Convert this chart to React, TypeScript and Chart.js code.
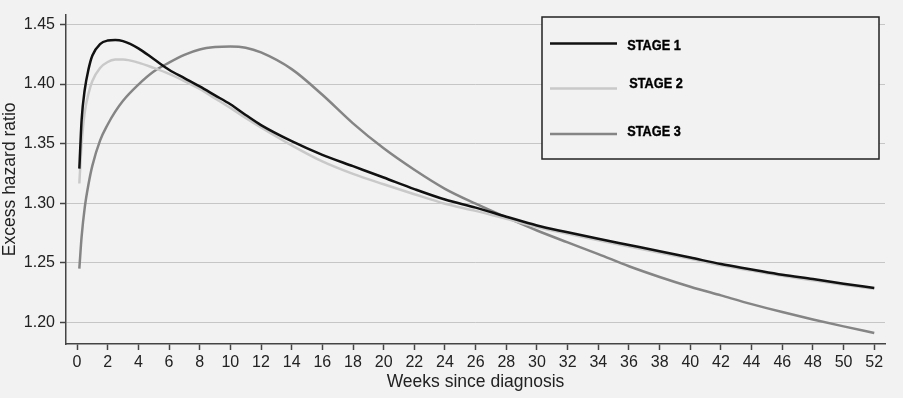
import React, { useEffect, useRef } from "react";
import { Chart, registerables } from "chart.js";

Chart.register(...registerables);

// ---- data ----
const weeks = [0.15, 0.3, 0.5, 0.75, 1, 1.5, 2, 2.5, 3, 4, 5, 6, 7, 8, 9, 10, 11, 12, 14, 16, 18, 20, 22, 24, 26, 28, 30, 32, 34, 36, 38, 40, 42, 44, 46, 48, 50, 52];

const stage1 = [1.329, 1.37, 1.395, 1.4125, 1.424, 1.4335, 1.4365, 1.437, 1.436, 1.43, 1.421, 1.412, 1.405, 1.398, 1.3905, 1.383, 1.374, 1.3655, 1.352, 1.3405, 1.331, 1.3215, 1.3118, 1.303, 1.2962, 1.2886, 1.2812, 1.2755, 1.27, 1.2648, 1.2596, 1.2543, 1.2488, 1.2443, 1.2398, 1.2362, 1.2323, 1.2288];

const stage2 = [1.3165, 1.35, 1.376, 1.392, 1.4025, 1.4135, 1.4185, 1.4205, 1.4207, 1.418, 1.4135, 1.4085, 1.4025, 1.396, 1.388, 1.38, 1.3715, 1.3635, 1.3485, 1.335, 1.3245, 1.3158, 1.3075, 1.2995, 1.2935, 1.2868, 1.28, 1.2742, 1.2688, 1.2636, 1.2584, 1.2532, 1.2478, 1.2433, 1.239, 1.2352, 1.2315, 1.228];

const stage3 = [1.245, 1.272, 1.296, 1.316, 1.3315, 1.3525, 1.366, 1.377, 1.386, 1.3995, 1.4105, 1.418, 1.4245, 1.429, 1.431, 1.4315, 1.4305, 1.4265, 1.4125, 1.391, 1.367, 1.346, 1.328, 1.312, 1.2995, 1.288, 1.277, 1.267, 1.2572, 1.247, 1.238, 1.2298, 1.2225, 1.2152, 1.2085, 1.2023, 1.1965, 1.191];

const seriesNames = ["STAGE 1", "STAGE 2", "STAGE 3"];
const seriesColors = ["#111111", "#c9c9c9", "#858585"];

const xTicks = [0, 2, 4, 6, 8, 10, 12, 14, 16, 18, 20, 22, 24, 26, 28, 30, 32, 34, 36, 38, 40, 42, 44, 46, 48, 50, 52];
const yTicks = [1.2, 1.25, 1.3, 1.35, 1.4, 1.45];

const xTitle = "Weeks since diagnosis";
const yTitle = "Excess hazard ratio";

const BG = "#f2f2f2";
const FONT = "'Liberation Sans', Arial, Helvetica, sans-serif";

const bgPlugin = {
  id: "bgFill",
  beforeDraw(chart: any) {
    const ctx = chart.ctx;
    ctx.save();
    ctx.fillStyle = BG;
    ctx.fillRect(0, 0, chart.width, chart.height);
    ctx.restore();
  },
};

const legendPlugin = {
  id: "boxLegend",
  afterDraw(chart: any) {
    const ctx = chart.ctx;
    ctx.save();
    ctx.fillStyle = BG;
    ctx.fillRect(542, 17, 337, 142);
    ctx.strokeStyle = "#222";
    ctx.lineWidth = 1.5;
    ctx.strokeRect(542, 17, 337, 142);
    const lineY = [43.5, 88.5, 134];
    const textY = [45.5, 84, 132.2];
    const textX = [627.3, 629.3, 627.3];
    seriesNames.forEach((name, i) => {
      ctx.beginPath();
      ctx.strokeStyle = seriesColors[i];
      ctx.lineWidth = 2.5;
      ctx.moveTo(550, lineY[i]);
      ctx.lineTo(617, lineY[i]);
      ctx.stroke();
      ctx.save();
      ctx.translate(textX[i], textY[i]);
      ctx.scale(0.82, 1);
      ctx.fillStyle = "#000";
      ctx.strokeStyle = "#000";
      ctx.lineWidth = 0.4;
      ctx.font = "bold 15.5px " + FONT;
      ctx.textBaseline = "middle";
      ctx.textAlign = "left";
      ctx.fillText(name, 0, 0);
      ctx.strokeText(name, 0, 0);
      ctx.restore();
    });
    ctx.restore();
  },
};

export default function App() {
  const ref = useRef<HTMLCanvasElement | null>(null);

  useEffect(() => {
    document.body.style.margin = "0";
    document.body.style.background = BG;
    if (!ref.current) return;
    const series = [stage1, stage2, stage3];
    const chart = new Chart(ref.current, {
      type: "line",
      data: {
        datasets: series.map((vals, i) => ({
          label: seriesNames[i],
          data: weeks.map((w, j) => ({ x: w, y: vals[j] })),
          borderColor: seriesColors[i],
          backgroundColor: seriesColors[i],
          borderWidth: 2.5,
          pointRadius: 0,
          fill: false,
          cubicInterpolationMode: "monotone" as const,
        })),
      },
      options: {
        responsive: false,
        maintainAspectRatio: false,
        animation: false,
        layout: { padding: { top: 13, right: 18, left: 0, bottom: 0 } },
        plugins: {
          legend: { display: false },
          tooltip: { enabled: false },
        },
        scales: {
          x: {
            type: "linear",
            min: -0.72,
            max: 52.7,
            afterBuildTicks: (scale: any) => {
              scale.ticks = xTicks.map((v) => ({ value: v }));
            },
            afterFit: (scale: any) => {
              scale.height = 54;
            },
            border: { display: true, color: "#444", width: 1.5 },
            grid: {
              drawOnChartArea: false,
              drawTicks: true,
              tickLength: 6,
              tickColor: "#444",
              tickWidth: 1.5,
            },
            ticks: {
              autoSkip: false,
              maxRotation: 0,
              padding: 3,
              color: "#222",
              font: { family: FONT, size: 16 },
              callback: (v: any) => String(v),
            },
            title: {
              display: true,
              text: xTitle,
              color: "#222",
              font: { family: FONT, size: 17.5 },
              padding: { top: 0, bottom: 5 },
            },
          },
          y: {
            type: "linear",
            min: 1.1817,
            max: 1.4583,
            afterBuildTicks: (scale: any) => {
              scale.ticks = yTicks.map((v) => ({ value: v }));
            },
            afterFit: (scale: any) => {
              scale.width = 66;
            },
            border: { display: true, color: "#444", width: 1.5 },
            grid: {
              color: "#c6c6c6",
              lineWidth: 1,
              drawTicks: true,
              tickLength: 6,
              tickColor: "#444",
              tickWidth: 1.5,
            },
            ticks: {
              padding: 5,
              color: "#222",
              font: { family: FONT, size: 16 },
              callback: (v: any) => Number(v).toFixed(2),
            },
            title: {
              display: true,
              text: yTitle,
              color: "#222",
              font: { family: FONT, size: 17.5 },
              padding: { top: 0, bottom: 0 },
            },
          },
        },
      },
      plugins: [bgPlugin, legendPlugin],
    });
    return () => chart.destroy();
  }, []);

  return (
    <div style={{ width: 903, height: 398, background: BG }}>
      <canvas ref={ref} width={903} height={398} style={{ display: "block", width: 903, height: 398 }} />
    </div>
  );
}
